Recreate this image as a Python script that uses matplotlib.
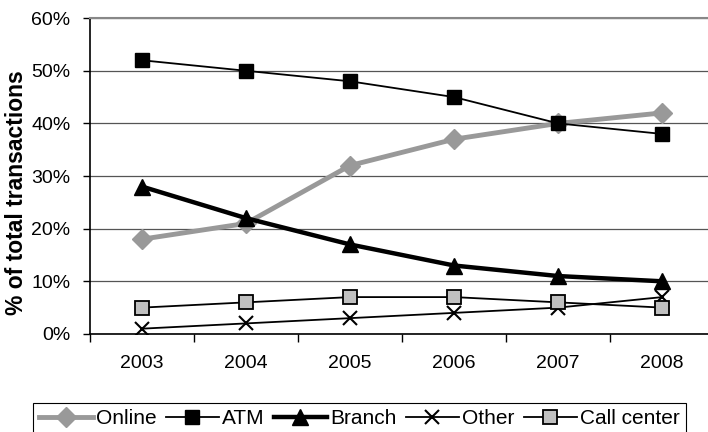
import matplotlib
matplotlib.use("Agg")
import matplotlib.pyplot as plt
import numpy as np

plt.rcParams["font.family"] = ["Liberation Sans", "DejaVu Sans"]

# data (share of total transactions, %)
years = ["2003", "2004", "2005", "2006", "2007", "2008"]
online = [18, 21, 32, 37, 40, 42]
atm = [52, 50, 48, 45, 40, 38]
branch = [28, 22, 17, 13, 11, 10]
other = [1, 2, 3, 4, 5, 7]
call_center = [5, 6, 7, 7, 6, 5]

fig = plt.figure(figsize=(7.08, 4.32), dpi=100)
ax = fig.add_axes([0.127, 0.227, 0.873, 0.731])

x = np.arange(len(years)) + 0.5

ax.plot(x, online, color="#999999", lw=3.5, marker="D", ms=10,
        mfc="#999999", mec="#999999", label="Online")
ax.plot(x, atm, color="black", lw=1.3, marker="s", ms=10,
        mfc="black", mec="black", label="ATM")
ax.plot(x, branch, color="black", lw=3.2, marker="^", ms=12,
        mfc="black", mec="black", label="Branch")
ax.plot(x, other, color="black", lw=1.3, marker="x", ms=10, mew=1.5,
        label="Other")
ax.plot(x, call_center, color="black", lw=1.3, marker="s", ms=10, mew=1.3,
        mfc="#c0c0c0", mec="black", label="Call center")

ax.set_xlim(0, 5.94)
ax.set_ylim(0, 60)
ax.set_yticks(range(0, 61, 10))
ax.set_yticklabels([f"{v}%" for v in range(0, 61, 10)], fontsize=14)
ax.set_xticks(x)
ax.set_xticklabels(years, fontsize=14)
ax.set_xticks(np.arange(0, 6), minor=True)
ax.tick_params(axis="x", which="major", length=0, pad=15)
ax.tick_params(axis="x", which="minor", length=6, width=1, color="black")
ax.tick_params(axis="y", length=5, width=1, color="black", pad=9)

ax.yaxis.grid(True, color="#555555", lw=0.9)
ax.set_axisbelow(True)
ax.spines["right"].set_visible(False)
ax.spines["top"].set_color("#888888")
ax.spines["top"].set_linewidth(1.5)
ax.spines["left"].set_linewidth(1.2)
ax.spines["bottom"].set_linewidth(1.2)

ax.set_ylabel("% of total transactions", fontsize=16.5, fontweight="bold")
ax.yaxis.set_label_coords(-0.10, 0.446)

leg = fig.legend(loc="lower center", bbox_to_anchor=(0.508, -0.03), ncol=5,
                 fontsize=15, handlelength=2.55, handletextpad=0.15,
                 columnspacing=0.45, borderpad=0.3, fancybox=False,
                 framealpha=1, edgecolor="black")
leg.get_frame().set_linewidth(0.8)

fig.savefig("out.png", dpi=100)
